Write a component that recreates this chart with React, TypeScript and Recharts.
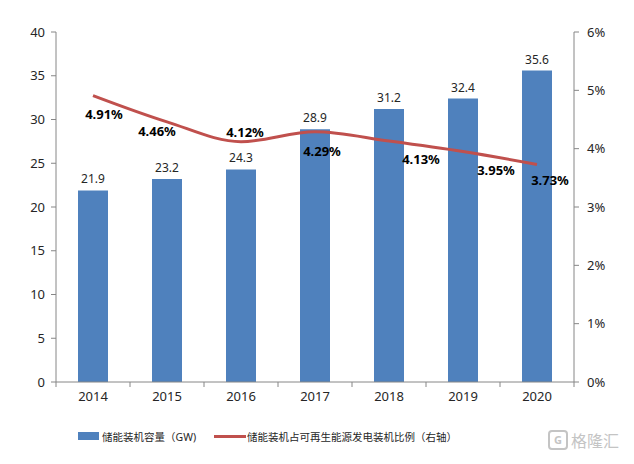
import React from "react";
import {
  ComposedChart,
  Bar,
  Line,
  XAxis,
  YAxis,
  Legend,
  LabelList,
} from "recharts";

// values
const years = ["2014", "2015", "2016", "2017", "2018", "2019", "2020"];
const capacityGW = [21.9, 23.2, 24.3, 28.9, 31.2, 32.4, 35.6];
const shareOfRenewables = [4.91, 4.46, 4.12, 4.29, 4.13, 3.95, 3.73];
const leftTicks = [0, 5, 10, 15, 20, 25, 30, 35, 40];
const rightTicks = [0, 1, 2, 3, 4, 5, 6];

const BAR_NAME = "储能装机容量（GW)";
const LINE_NAME = "储能装机占可再生能源发电装机比例（右轴）";

const data = years.map((year, i) => ({
  year,
  capacity: capacityGW[i],
  share: shareOfRenewables[i],
}));

const W = 634;
const H = 464;
const MARGIN = { top: 32, right: 0, bottom: 32, left: 0 };
const LEFT_W = 56;
const RIGHT_W = 60;
const PLOT_W = W - LEFT_W - RIGHT_W;

const BLUE = "#4F81BD";
const RED = "#C0504D";
const AXIS = "#868686";
const TEXT = "#262626";
const FONT = "'Noto Sans', 'Noto Sans CJK SC', sans-serif";

// where Excel put each percentage label, relative to its point
const lineLabelShift = [
  [11, 18],
  [-10, 9],
  [4, -10],
  [7, 19],
  [32, 18],
  [33, 18],
  [13, 16],
];

const CategoryTick = (props: any) => {
  const { x, y, payload, index } = props;
  const band = PLOT_W / years.length;
  return (
    <g>
      <line x1={x - band / 2} y1={y} x2={x - band / 2} y2={y + 5} stroke={AXIS} />
      {index === years.length - 1 && (
        <line x1={x + band / 2} y1={y} x2={x + band / 2} y2={y + 5} stroke={AXIS} />
      )}
      <text
        x={x}
        y={y + 19}
        textAnchor="middle"
        fontSize={13}
        fontFamily={FONT}
        fill={TEXT}
      >
        {payload.value}
      </text>
    </g>
  );
};

const ShareLabel = (props: any) => {
  const { x, y, value, index } = props;
  const [dx, dy] = lineLabelShift[index] || [0, -12];
  return (
    <text
      x={x + dx}
      y={y + dy}
      textAnchor="middle"
      dominantBaseline="central"
      fontSize={13}
      fontWeight="bold"
      fontFamily={FONT}
      fill="#000"
    >
      {`${value.toFixed(2)}%`}
    </text>
  );
};

const LegendContent = () => (
  <div
    style={{
      display: "flex",
      alignItems: "center",
      justifyContent: "flex-start",
      height: 20,
      paddingLeft: 78,
      fontFamily: FONT,
      fontSize: 10.5,
      color: TEXT,
      whiteSpace: "nowrap",
    }}
  >
    <span style={{ display: "inline-block", width: 21, height: 8, background: BLUE }} />
    <span style={{ marginLeft: 3 }}>{BAR_NAME}</span>
    <span
      style={{
        display: "inline-block",
        width: 32,
        height: 3,
        background: RED,
        marginLeft: 18,
      }}
    />
    <span style={{ marginLeft: 1 }}>{LINE_NAME}</span>
  </div>
);

export default function App() {
  return (
    <div
      style={{
        position: "absolute",
        top: 0,
        left: 0,
        width: W,
        height: H,
        background: "#fff",
      }}
    >
      <ComposedChart width={W} height={H} data={data} margin={MARGIN}>
        <XAxis
          dataKey="year"
          height={30}
          stroke={AXIS}
          tickLine={false}
          tickSize={0}
          tickMargin={0}
          tick={<CategoryTick />}
          interval={0}
        />
        <YAxis
          yAxisId="left"
          width={LEFT_W}
          domain={[0, 40]}
          ticks={leftTicks}
          stroke={AXIS}
          tickSize={5}
          tickMargin={6}
          tick={{ fill: TEXT, fontSize: 13, fontFamily: FONT }}
        />
        <YAxis
          yAxisId="right"
          orientation="right"
          width={RIGHT_W}
          domain={[0, 6]}
          ticks={rightTicks}
          stroke={AXIS}
          tickSize={5}
          tickMargin={8}
          tickFormatter={(v: number) => `${v}%`}
          tick={{ fill: TEXT, fontSize: 13, fontFamily: FONT }}
        />
        <Legend
          verticalAlign="bottom"
          content={<LegendContent />}
          wrapperStyle={{ top: 426, left: 0, width: W, height: 20 }}
        />
        <Bar
          yAxisId="left"
          dataKey="capacity"
          name={BAR_NAME}
          fill={BLUE}
          barSize={30}
          isAnimationActive={false}
        >
          <LabelList
            dataKey="capacity"
            position="top"
            offset={7}
            fill={TEXT}
            fontSize={12}
            fontFamily={FONT}
          />
        </Bar>
        <Line
          yAxisId="right"
          dataKey="share"
          name={LINE_NAME}
          type="monotone"
          stroke={RED}
          strokeWidth={3}
          dot={false}
          activeDot={false}
          isAnimationActive={false}
        >
          <LabelList dataKey="share" content={<ShareLabel />} />
        </Line>
      </ComposedChart>
      <div
        style={{
          position: "absolute",
          left: 548,
          top: 428,
          display: "flex",
          alignItems: "center",
          color: "#c4c4c4",
          fontFamily: FONT,
          fontSize: 16,
        }}
      >
        <span
          style={{
            display: "inline-block",
            width: 16,
            height: 16,
            border: "2px solid #c4c4c4",
            borderRadius: 4,
            fontSize: 11,
            lineHeight: "16px",
            textAlign: "center",
            fontWeight: "bold",
            marginRight: 3,
          }}
        >
          G
        </span>
        格隆汇
      </div>
    </div>
  );
}
